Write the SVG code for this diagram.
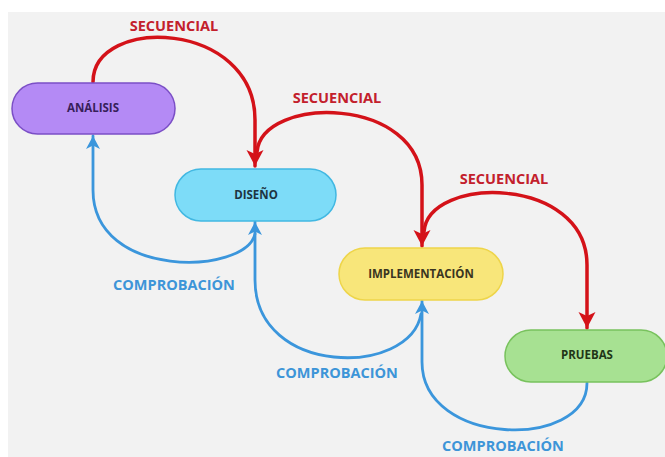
<svg xmlns="http://www.w3.org/2000/svg" width="665" height="457" viewBox="0 0 665 457">
  <style>
    .node-label { font-family: "Open Sans", "Liberation Sans", sans-serif; font-weight: 700; font-size: 11.5px; text-anchor: middle; }
    .edge-label { font-family: "Open Sans", "Liberation Sans", sans-serif; font-weight: 700; font-size: 14.5px; text-anchor: middle; }
    .seq { fill: none; stroke: #d41219; stroke-width: 3.5; stroke-linecap: round; }
    .chk { fill: none; stroke: #3b96dc; stroke-width: 2.8; stroke-linecap: round; }
    .seq-text { fill: #c3202c; }
    .chk-text { fill: #3d95d8; }
  </style>
  <defs>
    <marker id="arrow-red" viewBox="0 0 18 18" refX="17" refY="9" markerWidth="18" markerHeight="18" markerUnits="userSpaceOnUse" orient="auto">
      <path d="M1,0.5 L17,9 L1,17.5 L5,9 Z" fill="#d41219"/>
    </marker>
    <marker id="arrow-blue" viewBox="0 0 15 15" refX="14" refY="7.5" markerWidth="15" markerHeight="15" markerUnits="userSpaceOnUse" orient="auto">
      <path d="M1,0.5 L14,7.5 L1,14.5 L4.5,7.5 Z" fill="#3b96dc"/>
    </marker>
  </defs>

  <!-- canvas -->
  <rect x="0" y="0" width="665" height="457" fill="#ffffff"/>
  <rect x="8" y="12" width="657" height="445" fill="#f2f2f2"/>

  <!-- connectors -->
  <g id="connectors">
    <!-- sequential flow -->
    <path class="seq" d="M93,82 C93,15 255,20 255,120 L255,166" marker-end="url(#arrow-red)"/>
    <path class="seq" d="M257,152 C262,95 422,95 422,185 L422,246" marker-end="url(#arrow-red)"/>
    <path class="seq" d="M424,232 C428,175 587,175 587,265 L587,328" marker-end="url(#arrow-red)"/>
    <!-- verification flow -->
    <path class="chk" d="M255,234 C245,275 93,280 93,190 L93,136" marker-end="url(#arrow-blue)"/>
    <path class="chk" d="M421,314 C410,377 255,377 255,280 L255,222" marker-end="url(#arrow-blue)"/>
    <path class="chk" d="M587,383 C587,450 422,447 422,362 L422,301" marker-end="url(#arrow-blue)"/>
  </g>

  <!-- edge labels -->
  <g id="edge-labels">
    <text class="edge-label seq-text" x="174" y="31">SECUENCIAL</text>
    <text class="edge-label seq-text" x="337" y="103">SECUENCIAL</text>
    <text class="edge-label seq-text" x="504" y="184">SECUENCIAL</text>
    <text class="edge-label chk-text" x="174" y="290">COMPROBACIÓN</text>
    <text class="edge-label chk-text" x="337" y="378">COMPROBACIÓN</text>
    <text class="edge-label chk-text" x="503" y="451">COMPROBACIÓN</text>
  </g>

  <!-- nodes -->
  <g id="analisis">
    <rect x="12" y="83" width="163" height="51" rx="25.5" fill="#b48af5" stroke="#7b4fc6" stroke-width="1.5"/>
    <text class="node-label" x="93" y="112" fill="#37205a">ANÁLISIS</text>
  </g>
  <g id="diseno">
    <rect x="175" y="169" width="161" height="52" rx="26" fill="#7ddcf8" stroke="#42b8e2" stroke-width="1.5"/>
    <text class="node-label" x="256" y="199" fill="#1d3441">DISEÑO</text>
  </g>
  <g id="implementacion">
    <rect x="339" y="248" width="164" height="52" rx="26" fill="#f8e67a" stroke="#eed54a" stroke-width="1.5"/>
    <text class="node-label" x="421" y="278" fill="#3a3521">IMPLEMENTACIÓN</text>
  </g>
  <g id="pruebas">
    <rect x="505" y="330" width="162" height="52" rx="26" fill="#a7e192" stroke="#78c25d" stroke-width="1.5"/>
    <text class="node-label" x="587" y="359" fill="#1f3617">PRUEBAS</text>
  </g>
</svg>
